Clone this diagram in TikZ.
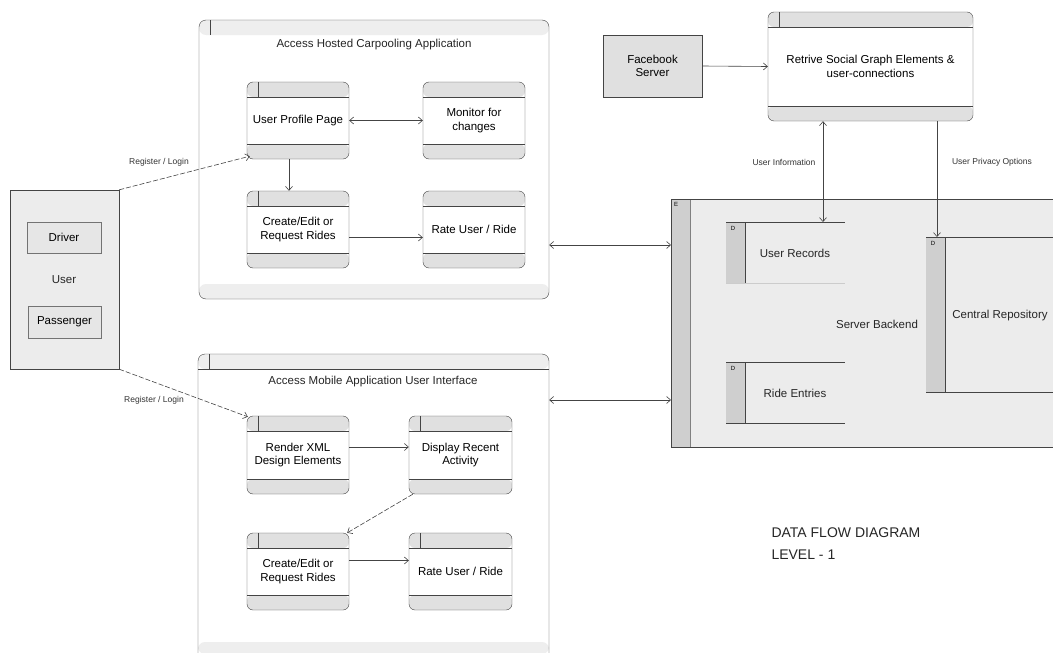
\documentclass[tikz,border=0pt]{standalone}
\usepackage{fontspec}
\setmainfont{Liberation Sans}
\usetikzlibrary{arrows.meta,calc}
\definecolor{lc}{HTML}{444444}
\definecolor{bandc}{HTML}{E0E0E0}
\definecolor{cbandc}{HTML}{EEEEEE}
\definecolor{extc}{HTML}{E6E6E6}
\definecolor{backc}{HTML}{ECECEC}
\definecolor{stripc}{HTML}{CFCFCF}
\newcommand\boxfont{\fontsize{11.5}{13.5}\selectfont}
\newcommand\lblfont{\fontsize{8.5}{10}\selectfont}
\newcommand\pbands{%
  \fill[bandc] (path picture bounding box.north west) rectangle ([yshift=-15pt]path picture bounding box.north east);
  \fill[bandc] (path picture bounding box.south west) rectangle ([yshift=15pt]path picture bounding box.south east);
  \draw[lc] ([yshift=-15pt]path picture bounding box.north west) -- ([yshift=-15pt]path picture bounding box.north east);
  \draw[lc] ([yshift=15pt]path picture bounding box.south west) -- ([yshift=15pt]path picture bounding box.south east);}
\newcommand\ptab{%
  \draw[lc] ([xshift=11pt]path picture bounding box.north west) -- ([xshift=11pt,yshift=-15pt]path picture bounding box.north west);}
\tikzset{
  proc/.style={draw=lc, fill=white, rounded corners=6pt, minimum width=102pt, minimum height=77pt,
    align=center, font=\boxfont, inner sep=0pt, path picture={\pbands\ptab}},
  procnt/.style={proc, path picture={\pbands}},
  cont/.style={draw=lc, fill=white, rounded corners=7pt, inner sep=0pt},
  ext/.style={draw=lc, fill=extc, inner sep=0pt, align=center, font=\boxfont},
  flow/.style={draw=lc, line width=0.6pt, -{Straight Barb[length=4pt,width=7pt]}},
  bflow/.style={flow, {Straight Barb[length=4pt,width=7pt]}-{Straight Barb[length=4pt,width=7pt]}},
  dflow/.style={flow, dashed, dash pattern=on 5pt off 2pt},
  lbl/.style={font=\lblfont, text=black!80},
  txt/.style={font=\boxfont, text=black!85},
}
\begin{document}
\begin{tikzpicture}[x=1pt,y=-1pt]
\useasboundingbox (0,0) rectangle (1053,653);
\fill[white] (0,0) rectangle (1053,653);

% ---------- top container ----------
\node[cont, minimum width=350pt, minimum height=279pt,
  path picture={
    \fill[cbandc] (path picture bounding box.north west) rectangle ([yshift=-15pt]path picture bounding box.north east);
    \fill[cbandc] (path picture bounding box.south west) rectangle ([yshift=15pt]path picture bounding box.south east);
    \draw[lc] ([xshift=11pt]path picture bounding box.north west) -- ([xshift=11pt,yshift=-15pt]path picture bounding box.north west);
  }] (topc) at (374,159.5) {};
\node[txt] (t1) at (374,45) {Access Hosted Carpooling Application};

% ---------- bottom container ----------
\node[cont, minimum width=351pt, minimum height=306pt,
  path picture={
    \fill[cbandc] (path picture bounding box.north west) rectangle ([yshift=-15pt]path picture bounding box.north east);
    \draw[lc] ([yshift=-15pt]path picture bounding box.north west) -- ([yshift=-15pt]path picture bounding box.north east);
    \fill[cbandc] ([yshift=18pt]path picture bounding box.south west) rectangle ([yshift=6pt]path picture bounding box.south east);
    \draw[lc] ([xshift=11pt]path picture bounding box.north west) -- ([xshift=11pt,yshift=-15pt]path picture bounding box.north west);
  }] (botc) at (373.5,507) {};
\node[txt] (t2) at (373,382) {Access Mobile Application User Interface};

% ---------- processes (top) ----------
\node[proc] (upp) at (298,120.5) {User Profile Page};
\node[procnt] (mon) at (474,120.5) {Monitor for\\changes};
\node[proc] (cer1) at (298,229.5) {Create/Edit or\\Request Rides};
\node[procnt] (rate1) at (474,229.5) {Rate User / Ride};

% ---------- processes (bottom) ----------
\node[proc, minimum height=78pt] (rxml) at (298,455) {Render XML\\Design Elements};
\node[proc, minimum height=78pt, minimum width=103pt] (disp) at (460.5,455) {Display Recent\\Activity};
\node[proc] (cer2) at (298,571.5) {Create/Edit or\\Request Rides};
\node[proc, minimum width=103pt] (rate2) at (460.5,571.5) {Rate User / Ride};

% ---------- user ----------
\node[ext, fill=backc, minimum width=109pt, minimum height=179pt] (user) at (64.5,279.5) {};
\node[ext, minimum width=74pt, minimum height=31pt, draw=black!55] (drv) at (64,237.5) {Driver};
\node[txt] (usr) at (64,280) {User};
\node[ext, minimum width=73pt, minimum height=32pt, draw=black!55] (pas) at (64.5,322) {Passenger};

% ---------- facebook / retrieve ----------
\node[ext, fill=bandc, minimum width=99pt, minimum height=62pt] (fb) at (652.5,66) {Facebook\\Server};
\node[proc, minimum width=205pt, minimum height=109pt] (retr) at (870.5,66.5) {Retrive Social Graph Elements \&\\user-connections};

% ---------- server backend ----------
\node[draw=lc, fill=backc, minimum width=400pt, minimum height=248pt, inner sep=0pt, anchor=north west,
  path picture={\fill[stripc] (path picture bounding box.north west) rectangle ([xshift=19pt]path picture bounding box.south west);
                \draw[black!50] ([xshift=19pt]path picture bounding box.north west) -- ([xshift=19pt]path picture bounding box.south west);}]
  (back) at (671,199) {};
\node[font=\fontsize{6}{7}\selectfont] (eb) at (676,204) {E};
\node[txt] (sbt) at (877,324) {Server Backend};

% data stores
\fill[stripc] (726,222) rectangle (745,283);
\draw[lc] (745,222) -- (745,283);
\draw[lc] (726,222) -- (845,222);
\draw[black!20] (726,283) -- (845,283);
\node[font=\fontsize{6}{7}\selectfont] (d1) at (733,228) {D};
\node[txt] (urec) at (795,253) {User Records};
\coordinate (urtop) at (823,222);

\fill[stripc] (726,362) rectangle (745,423);
\draw[lc] (745,362) -- (745,423);
\draw[lc] (726,362) -- (845,362);
\draw[lc] (726,423) -- (845,423);
\node[font=\fontsize{6}{7}\selectfont] (d2) at (733,368) {D};
\node[txt] (ride) at (795,393) {Ride Entries};

\fill[stripc] (926,237) rectangle (945,392);
\draw[lc] (945,237) -- (945,392);
\draw[lc] (926,237) -- (1060,237);
\draw[lc] (926,392) -- (1060,392);
\node[font=\fontsize{6}{7}\selectfont] (d3) at (933,243) {D};
\node[txt] (crep) at (1000,316) {Central Repository};
\coordinate (crtop) at (937,237);

% ---------- flows ----------
\draw[bflow] (upp.east) -- (mon.west);
\draw[flow] ([xshift=-9pt]upp.south) -- ([xshift=-9pt]cer1.north);
\draw[flow] ([yshift=-8pt]cer1.east) -- ([yshift=-8pt]rate1.west);
\draw[flow] ([yshift=8pt]rxml.east) -- ([yshift=8pt]disp.west);
\draw[dflow] ([xshift=4pt]disp.south west) -- ([xshift=-2pt]cer2.north east);
\draw[flow] ([yshift=11pt]cer2.east) -- ([yshift=11pt]rate2.west);

\draw[dflow] (user.north east) -- ($(upp.south west)+(3,-3)$);
\draw[dflow] (user.south east) -- ($(rxml.north west)+(1,1)$);
\node[lbl] (rl1) at (159,162) {Register / Login};
\node[lbl] (rl2) at (154,400) {Register / Login};

\draw[bflow] (topc.east |- 0,245) -- (back.west |- 0,245);
\draw[bflow] (botc.east |- 0,400) -- (back.west |- 0,400);

\draw[flow] (fb.east) -- (retr.west);
\draw[bflow] (retr.south -| urtop) -- (urtop);
\draw[flow] (retr.south -| crtop) -- (crtop);
\node[lbl] (uinf) at (784,162) {User Information};
\node[lbl] (upriv) at (992,162) {User Privacy Options};

\node[font=\fontsize{14}{22}\selectfont, align=left, anchor=west, text=black!85] (dfd) at (768,544) {DATA FLOW DIAGRAM\\LEVEL - 1};
\end{tikzpicture}
\end{document}
